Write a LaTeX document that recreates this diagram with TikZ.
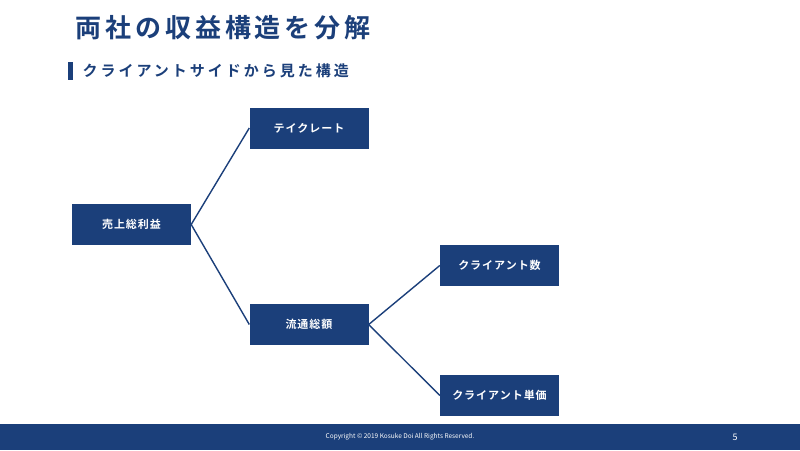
\documentclass[tikz,border=0pt]{standalone}
\usepackage{fontspec}
\setmainfont{Noto Sans CJK JP}
\newfontfamily\jpt{Noto Sans CJK JP Bold}[LetterSpace=15]
\newfontfamily\jps{Noto Sans CJK JP Bold}[LetterSpace=20]
\newfontfamily\jpb{Noto Sans CJK JP Bold}[LetterSpace=9]
\definecolor{navy}{HTML}{1B3F7A}
\begin{document}
\begin{tikzpicture}[x=1pt,y=-1pt,
  bx/.style={draw=none,fill=navy,text=white,minimum width=119pt,minimum height=41pt,inner sep=0pt,font=\jpb\fontsize{11}{13}\selectfont},
  ln/.style={draw=navy,line width=1.4pt}]
\useasboundingbox (0,0) rectangle (800,450);
\fill[white] (0,0) rectangle (800,450);
\node[anchor=west,text=navy,font=\jpt\fontsize{26}{30}\selectfont] (title) at (72,28) {両社の収益構造を分解};
\fill[navy] (68,62) rectangle (73,80);
\node[anchor=west,text=navy,font=\jps\fontsize{15}{18}\selectfont] (sub) at (79,71) {クライアントサイドから見た構造};
\node[bx] (a) at (131.5,224.5) {売上総利益};
\node[bx] (b) at (309,128) {テイクレート};
\node[bx] (c) at (309,324.5) {流通総額};
\node[bx] (d) at (499.5,265.5) {クライアント数};
\node[bx] (e) at (499.5,395.5) {クライアント単価};
\draw[ln] (a.east) -- (b.west);
\draw[ln] (a.east) -- (c.west);
\draw[ln] (c.east) -- (d.west);
\draw[ln] (c.east) -- (e.west);
\fill[navy] (0,424) rectangle (800,450);
\node[text=white,font=\fontsize{6.5}{8}\selectfont] (copy) at (400,437) {Copyright © 2019 Kosuke Doi All Rights Reserved.};
\node[text=white,font=\fontsize{9}{10}\selectfont] (pg) at (735,437) {5};
\end{tikzpicture}
\end{document}
